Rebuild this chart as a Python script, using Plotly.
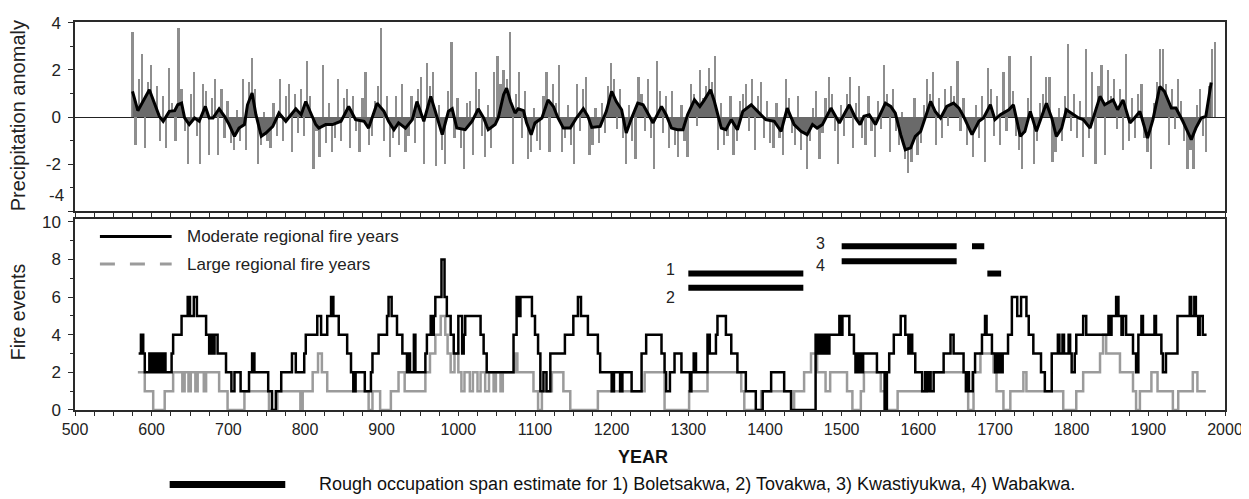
import plotly.graph_objects as go

# ---------------- DATA ----------------
# Annual precipitation anomaly (sampled every 4 years, read from the spikes)
prec_years = list(range(575, 1988, 4))
prec_values = [
    3.6, -1.2, 1.6, 2.7, -1.3, 1.5, 2.2, 0.4, 1.3, -1.0,
    0.9, -1.3, 2.1, 0.6, -1.0, 3.8, 1.2, -0.6, -2.0, 1.0,
    1.9, -0.8, -2.0, 1.4, 1.1, -1.6, 0.8, 1.6, -1.6, 1.2,
    -0.9, 0.7, -1.1, -1.4, 0.3, -1.0, 1.6, -1.4, 1.5, 2.5,
    1.2, -2.0, -1.2, 0.2, -1.0, -1.3, 0.6, -0.8, 1.6, -1.0,
    0.9, 1.4, -1.5, 1.0, -0.7, 1.2, -0.8, 2.4, 0.9, -2.2,
    -0.6, -1.7, 2.2, -1.1, 0.6, -1.5, -0.9, 1.6, -1.0, 0.8,
    1.2, -1.3, 0.9, -0.6, -1.5, 0.8, 1.9, -1.2, -0.8, 0.7,
    1.3, 3.8, -1.0, 0.9, -1.7, -0.9, 0.9, -1.2, 1.4, -1.5,
    -0.8, 0.9, -1.1, 1.2, 1.7, -2.0, 2.3, 1.3, 1.9, -2.1,
    0.5, -1.4, -2.0, 1.1, 3.2, -0.9, 0.8, -1.3, -2.2, 0.6,
    0.7, -1.6, 1.9, 1.2, -0.8, -1.7, 0.5, -1.3, 1.9, 2.6,
    1.4, 2.0, 1.6, 3.6, -2.0, 1.0, 1.9, -0.9, 1.1, -1.8,
    -1.5, 0.4, -1.0, -1.4, 0.9, 1.9, -1.5, 1.4, 0.6, 2.2,
    -1.5, -0.9, 0.5, -1.2, -2.0, 1.4, -0.6, 1.2, 1.7, -1.6,
    -1.2, 0.4, -1.1, 0.6, -0.7, 1.3, 2.3, 1.6, -0.5, 1.2,
    -0.9, -2.0, 0.5, -1.0, -1.8, 1.7, 1.0, -0.6, 1.6, -0.9,
    -2.2, 2.4, 1.1, -0.7, 0.9, -1.3, 1.1, -1.2, -1.7, 0.5,
    -1.0, -1.7, 1.4, 1.0, -0.4, 2.0, 0.8, 1.3, 2.1, 1.5,
    2.6, -1.4, 0.6, -1.2, -0.8, 0.9, -1.6, -1.0, 0.7, 1.0,
    1.4, -0.6, 1.6, -1.4, 0.9, 1.5, -0.9, 0.7, -1.1, -1.3,
    0.6, -0.9, -1.6, 1.6, 0.8, -0.7, -1.2, 0.9, -1.4, -0.6,
    -2.2, -1.0, 0.4, 1.1, -1.8, -0.7, 0.8, 1.7, 1.0, -0.6,
    -2.0, 0.5, -0.8, 1.0, 1.7, -1.3, 0.6, 1.3, -0.9, -1.2,
    0.9, -0.6, -1.7, 0.7, -0.5, 2.2, 1.0, -1.5, 1.2, -0.6,
    -1.2, 0.2, -1.8, -2.4, -1.9, 0.8, -1.6, -1.1, 0.5, 1.6,
    1.0, 1.9, -1.2, 0.8, -0.9, 1.2, -0.4, 1.3, 0.9, 2.4,
    -0.6, 0.8, -1.2, -0.6, -1.7, 0.5, -0.9, 0.9, -1.9, 2.1,
    1.2, -0.8, 0.9, -1.2, 1.9, -0.6, 2.6, 1.1, -0.8, -1.4,
    -2.2, -0.7, 0.8, 2.6, -2.0, -1.0, 0.6, 1.0, 1.7, 1.7,
    -1.9, -1.5, 0.4, -1.0, 0.9, 3.1, -0.6, 1.0, -0.9, 0.7,
    -1.7, 2.9, -0.9, 1.9, -2.0, 1.3, 2.2, -1.6, 2.0, 0.9,
    1.6, -0.5, 1.2, -1.4, 2.7, -1.0, 0.8, -0.9, 1.0, 1.4,
    -0.9, -1.5, -2.2, 0.6, 1.5, 2.9, 2.9, 1.4, -1.2, 1.2,
    -0.5, 1.6, 0.7, -1.0, -2.2, -1.4, -2.2, 0.5, 1.2, -0.8,
    -1.5, 1.3, 2.9, 3.2,
]

# Smoothed precipitation anomaly
smooth_years = [
    575, 582, 597, 610, 615, 623, 630, 634, 639, 643, 649, 656, 662, 670, 675, 680, 688, 695, 701, 708,
    714, 721, 725, 731, 736, 743, 749, 758, 766, 775, 788, 795, 801, 808, 814, 818, 827, 836, 847, 857,
    866, 877, 883, 894, 903, 909, 916, 922, 931, 940, 946, 955, 964, 970, 979, 987, 992, 998, 1009, 1018,
    1026, 1033, 1039, 1048, 1052, 1059, 1063, 1068, 1074, 1078, 1085, 1089, 1095, 1100, 1109, 1117, 1124, 1130, 1137, 1146,
    1154, 1163, 1169, 1174, 1185, 1193, 1200, 1206, 1213, 1219, 1226, 1234, 1241, 1247, 1254, 1265, 1271, 1278, 1286, 1293,
    1299, 1308, 1315, 1321, 1329, 1334, 1343, 1349, 1356, 1364, 1371, 1382, 1390, 1401, 1412, 1421, 1429, 1438, 1447, 1455,
    1462, 1468, 1475, 1486, 1497, 1510, 1518, 1524, 1529, 1536, 1544, 1551, 1557, 1564, 1570, 1577, 1583, 1590, 1596, 1603,
    1609, 1616, 1622, 1629, 1637, 1646, 1653, 1659, 1670, 1679, 1685, 1694, 1700, 1707, 1718, 1724, 1733, 1739, 1746, 1754,
    1767, 1774, 1780, 1787, 1793, 1800, 1809, 1815, 1824, 1837, 1843, 1854, 1860, 1867, 1876, 1882, 1889, 1899, 1906, 1915,
    1921, 1930, 1936, 1945, 1956, 1962, 1969, 1975, 1982,
]
smooth_values = [
    1.09, 0.27, 1.16, 0.03, -0.18, 0.24, 0.27, 0.52, 0.59, -0.04, -0.32, -0.04, -0.18, 0.45, -0.04, -0.04, 0.35, 0.03, -0.32, -0.82,
    -0.47, -0.32, 0.52, 1.02, 0.10, -0.82, -0.68, -0.40, 0.17, -0.18, 0.35, 0.10, 0.66, 0.17, -0.32, -0.47, -0.32, -0.32, -0.18, 0.45,
    -0.11, -0.18, -0.47, 0.59, 0.24, -0.18, -0.54, -0.25, -0.47, -0.11, 0.66, -0.18, 0.88, 0.24, -0.75, 0.24, 0.35, -0.47, -0.54, -0.18,
    0.35, -0.04, -0.54, -0.32, -0.04, 0.95, 1.23, 0.66, 0.17, 0.35, 0.27, -0.25, -0.75, -0.25, -0.04, 0.73, 0.45, -0.04, -0.47, -0.47,
    -0.04, 0.35, 0.03, -0.44, -0.40, 0.24, 1.09, 0.66, 0.31, -0.68, -0.04, 0.59, 0.52, 0.17, -0.25, 0.45, 0.10, -0.47, -0.54, -0.54,
    0.10, 0.73, 0.45, 0.73, 1.16, 0.66, -0.47, -0.54, -0.11, -0.54, 0.24, 0.52, 0.24, -0.11, -0.18, -0.61, 0.38, -0.32, -0.61, -0.75,
    -0.32, -0.47, -0.32, 0.38, -0.25, 0.52, -0.04, -0.32, 0.03, 0.10, -0.32, 0.17, 0.59, 0.45, 0.17, -0.75, -1.39, -1.31, -0.82, -0.61,
    -0.04, 0.66, 0.24, -0.04, 0.45, 0.59, 0.38, 0.03, -0.75, -0.18, -0.04, 0.52, -0.11, 0.10, 0.31, 0.52, -0.82, -0.61, 0.24, -0.61,
    0.59, -0.04, -0.82, -0.47, 0.31, 0.17, -0.04, -0.11, -0.47, 0.88, 0.52, 0.73, 0.31, 0.73, -0.25, -0.04, 0.24, -0.89, -0.11, 1.30,
    1.09, 0.38, 0.38, -0.18, -0.96, -0.47, -0.04, 0.03, 1.47,
]

# Moderate regional fire years (count, step changes)
moderate_years = [
    583, 586, 589, 591, 597, 600, 603, 606, 609, 612, 615, 618, 626, 628, 639, 647, 650, 655, 659, 671,
    675, 677, 680, 682, 686, 697, 704, 708, 716, 727, 731, 734, 752, 757, 762, 769, 783, 788, 799, 801,
    816, 821, 829, 834, 837, 844, 855, 860, 863, 866, 878, 886, 888, 896, 907, 909, 913, 920, 927, 933,
    935, 937, 942, 944, 957, 959, 964, 966, 968, 970, 978, 982, 985, 990, 994, 1000, 1005, 1007, 1009, 1029,
    1033, 1037, 1072, 1076, 1079, 1081, 1096, 1100, 1104, 1107, 1111, 1115, 1120, 1139, 1150, 1156, 1160, 1169, 1182, 1185,
    1200, 1203, 1211, 1214, 1226, 1239, 1245, 1265, 1269, 1271, 1276, 1282, 1291, 1302, 1304, 1307, 1310, 1325, 1328, 1336,
    1338, 1349, 1356, 1364, 1375, 1388, 1397, 1408, 1425, 1434, 1466, 1468, 1471, 1473, 1475, 1477, 1479, 1481, 1484, 1497,
    1499, 1501, 1510, 1516, 1518, 1520, 1522, 1524, 1526, 1528, 1546, 1556, 1559, 1562, 1568, 1577, 1583, 1587, 1589, 1592,
    1596, 1605, 1609, 1611, 1614, 1616, 1620, 1633, 1642, 1646, 1659, 1662, 1664, 1666, 1671, 1674, 1683, 1687, 1689, 1696,
    1700, 1702, 1704, 1706, 1708, 1710, 1717, 1722, 1729, 1734, 1741, 1744, 1750, 1760, 1765, 1774, 1782, 1784, 1788, 1790,
    1796, 1798, 1800, 1804, 1806, 1815, 1819, 1848, 1850, 1852, 1858, 1861, 1865, 1867, 1871, 1880, 1884, 1887, 1891, 1893,
    1908, 1910, 1917, 1919, 1923, 1938, 1954, 1956, 1960, 1962, 1965, 1967, 1971, 1976,
]
moderate_counts = [
    3, 4, 3, 2, 3, 2, 3, 2, 3, 2, 3, 2, 3, 4, 5, 6, 5, 6, 5, 4,
    3, 4, 3, 4, 3, 2, 1, 2, 1, 2, 3, 2, 1, 0, 1, 2, 3, 2, 3, 4,
    5, 4, 5, 6, 5, 4, 3, 2, 1, 2, 1, 2, 3, 4, 5, 6, 5, 4, 3, 2,
    3, 2, 4, 2, 3, 4, 5, 4, 5, 6, 8, 6, 5, 4, 3, 5, 3, 4, 5, 4,
    3, 2, 4, 6, 5, 6, 5, 4, 3, 1, 2, 1, 3, 4, 5, 6, 5, 4, 3, 2,
    1, 2, 1, 2, 1, 3, 4, 3, 2, 1, 2, 3, 2, 1, 2, 3, 2, 4, 3, 4,
    5, 4, 3, 2, 1, 0, 1, 2, 1, 0, 4, 3, 4, 3, 4, 3, 4, 3, 4, 5,
    4, 5, 4, 3, 2, 3, 2, 3, 2, 3, 2, 0, 2, 3, 4, 5, 4, 3, 4, 3,
    2, 1, 2, 1, 2, 1, 2, 3, 4, 3, 2, 1, 2, 1, 2, 3, 4, 5, 4, 3,
    2, 3, 2, 3, 2, 3, 4, 6, 5, 6, 5, 4, 3, 2, 1, 3, 4, 3, 4, 3,
    4, 3, 2, 3, 4, 5, 4, 5, 4, 5, 6, 5, 4, 5, 4, 3, 2, 4, 5, 4,
    5, 4, 3, 2, 3, 5, 6, 5, 6, 5, 4, 5, 4, 4,
]

# Large regional fire years (count, step changes)
large_years = [
    582, 591, 602, 617, 628, 640, 643, 648, 651, 657, 660, 668, 671, 688, 699, 721, 753, 764, 794, 797,
    810, 817, 822, 829, 883, 888, 898, 912, 922, 930, 957, 963, 970, 977, 983, 986, 990, 995, 1000, 1004,
    1008, 1015, 1019, 1025, 1029, 1035, 1040, 1046, 1049, 1055, 1058, 1074, 1077, 1098, 1104, 1109, 1122, 1137, 1146, 1182,
    1243, 1269, 1301, 1325, 1369, 1373, 1395, 1434, 1438, 1451, 1460, 1468, 1479, 1485, 1507, 1514, 1525, 1529, 1551, 1557,
    1573, 1611, 1665, 1672, 1681, 1698, 1702, 1711, 1720, 1737, 1741, 1789, 1806, 1815, 1837, 1841, 1845, 1863, 1880, 1884,
    1889, 1904, 1912, 1932, 1939, 1958, 1964, 1975,
]
large_counts = [
    2, 1, 0, 1, 2, 1, 2, 1, 2, 1, 2, 1, 2, 1, 0, 1, 0, 1, 0, 1,
    2, 3, 2, 1, 0, 1, 0, 1, 2, 1, 2, 3, 4, 5, 4, 3, 2, 3, 2, 1,
    2, 1, 2, 1, 2, 1, 2, 1, 2, 1, 2, 3, 2, 1, 0, 1, 2, 1, 0, 1,
    2, 0, 1, 2, 1, 0, 1, 0, 1, 2, 3, 2, 1, 2, 1, 0, 1, 2, 1, 0,
    1, 2, 0, 2, 3, 2, 1, 0, 1, 2, 1, 0, 1, 2, 3, 4, 3, 2, 1, 0,
    1, 2, 1, 0, 1, 2, 1, 1,
]

# Rough occupation spans
occ_labels = ["1", "2", "3", "3", "4", "4"]
occ_start = [1300, 1300, 1500, 1670, 1500, 1690]
occ_end = [1450, 1450, 1650, 1686, 1650, 1708]

# ---------------- STYLE / PLACEMENT ----------------
occ_row = [7.25, 6.5, 8.7, 8.7, 7.9, 7.25]
FONT = "Liberation Sans, Arial, sans-serif"
NARROW = "Liberation Sans Narrow, Arial Narrow, Liberation Sans, sans-serif"
AX = "#2a2a2a"

fig = go.Figure()

# Top panel
fig.add_trace(go.Bar(x=prec_years, y=prec_values, width=2.8,
                     marker=dict(color="#8e8e8e", line=dict(width=0)),
                     xaxis="x", yaxis="y", hoverinfo="skip"))
fig.add_trace(go.Scatter(x=smooth_years, y=smooth_values, mode="lines",
                         line=dict(width=0, color="rgba(0,0,0,0)"), fill="tozeroy",
                         fillcolor="#6a6a6a", xaxis="x", yaxis="y", hoverinfo="skip"))
fig.add_trace(go.Scatter(x=smooth_years, y=smooth_values, mode="lines",
                         line=dict(color="black", width=3), xaxis="x", yaxis="y"))

# Bottom panel
fig.add_trace(go.Scatter(x=large_years, y=large_counts, mode="lines",
                         line=dict(color="#9b9b9b", width=2.5, shape="hv"),
                         xaxis="x2", yaxis="y2"))
fig.add_trace(go.Scatter(x=moderate_years, y=moderate_counts, mode="lines",
                         line=dict(color="black", width=2.5, shape="hv"),
                         xaxis="x2", yaxis="y2"))

ox, oy = [], []
for s, e, r in zip(occ_start, occ_end, occ_row):
    ox += [s, e, None]
    oy += [r, r, None]
fig.add_trace(go.Scatter(x=ox, y=oy, mode="lines", line=dict(color="black", width=6),
                         xaxis="x2", yaxis="y2"))

label_pos = {"1": (1277, 7.45), "2": (1277, 6.0), "3": (1472, 8.85), "4": (1472, 7.7)}
annotations = []
for lab, (lx, ly) in label_pos.items():
    annotations.append(dict(x=lx, y=ly, xref="x2", yref="y2", text=lab, showarrow=False,
                            font=dict(family=FONT, size=16, color="#222")))


# helpers: window pixel -> paper fraction (plot area spans x 75..1229, y 14..410 in the window)
def px(xp):
    return (xp - 75) / 1154.0


def py(yp):
    return (410 - yp) / 396.0


annotations += [
    dict(x=px(66), y=py(191), xref="paper", yref="paper", text="-4", showarrow=False,
         font=dict(family=FONT, size=17, color="#222"), xanchor="right", yanchor="middle"),
    dict(x=px(18), y=py(110), xref="paper", yref="paper", text="Precipitation anomaly",
         textangle=-90, showarrow=False, font=dict(family=FONT, size=20, color="#222"),
         xanchor="center", yanchor="middle"),
    dict(x=px(18), y=py(310), xref="paper", yref="paper", text="Fire events",
         textangle=-90, showarrow=False, font=dict(family=FONT, size=19.5, color="#222"),
         xanchor="center", yanchor="middle"),
    dict(x=px(185), y=py(233), xref="paper", yref="paper", text="Moderate regional fire years",
         showarrow=False, font=dict(family=FONT, size=17, color="#222"), xanchor="left", yanchor="middle"),
    dict(x=px(185), y=py(261), xref="paper", yref="paper", text="Large regional fire years",
         showarrow=False, font=dict(family=FONT, size=17, color="#222"), xanchor="left", yanchor="middle"),
    dict(x=px(645), y=py(458), xref="paper", yref="paper", text="<b>YEAR</b>",
         showarrow=False, font=dict(family=NARROW, size=18, color="#111"), xanchor="center", yanchor="middle"),
    dict(x=px(318), y=py(486), xref="paper", yref="paper",
         text="Rough occupation span estimate for 1) Boletsakwa, 2) Tovakwa, 3) Kwastiyukwa, 4) Wabakwa.",
         showarrow=False, font=dict(family=NARROW, size=18, color="#111"), xanchor="left", yanchor="middle"),
]

shapes = [
    dict(type="line", xref="paper", yref="paper", x0=px(100), x1=px(172), y0=py(233), y1=py(233),
         line=dict(color="black", width=3)),
    dict(type="line", xref="paper", yref="paper", x0=px(100), x1=px(172), y0=py(261), y1=py(261),
         line=dict(color="#9b9b9b", width=3, dash="longdash")),
    dict(type="line", xref="paper", yref="paper", x0=px(170), x1=px(286), y0=py(486), y1=py(486),
         line=dict(color="black", width=7)),
]

# the page body has an 8px margin, so the figure is made 8px smaller and margins shifted
fig.update_layout(
    width=1241, height=491,
    margin=dict(l=67, r=20, t=6, b=89),
    paper_bgcolor="white", plot_bgcolor="white",
    showlegend=False, bargap=0,
    annotations=annotations, shapes=shapes,
    xaxis=dict(domain=[0, 1], anchor="y", range=[500, 2000], showline=True, linecolor=AX,
               linewidth=1.5, mirror=True, ticks="outside", ticklen=4, tickcolor=AX,
               tick0=500, dtick=25, showticklabels=False, showgrid=False, zeroline=False),
    yaxis=dict(domain=[0.5126, 1], anchor="x", range=[-4, 4.04], showline=True, linecolor=AX,
               linewidth=1.5, mirror=True, ticks="outside", ticklen=5, tickcolor=AX,
               tickvals=[-4, -2, 0, 2, 4], ticktext=["", "-2", "0", "2", "4"],
               minor=dict(tickvals=[-3, -1, 1, 3], ticks="outside", ticklen=3, tickcolor=AX),
               tickfont=dict(family=FONT, size=17, color="#222"), ticklabelstandoff=4,
               showgrid=False, zeroline=True, zerolinecolor="#222", zerolinewidth=1.2),
    xaxis2=dict(domain=[0, 1], anchor="y2", range=[500, 2000], showline=True, linecolor=AX,
                linewidth=1.5, mirror=True, ticks="outside", ticklen=4, tickcolor=AX,
                tick0=500, dtick=100, minor=dict(dtick=25, ticks="outside", ticklen=4, tickcolor=AX),
                tickfont=dict(family=NARROW, size=16, color="#222"),
                showgrid=False, zeroline=False),
    xaxis3=dict(overlaying="x2", anchor="y2", side="top", range=[500, 2000], showline=False,
                ticks="inside", ticklen=4, tickcolor=AX, tick0=500, dtick=25,
                showticklabels=False, showgrid=False, zeroline=False),
    yaxis2=dict(domain=[0, 0.4924], anchor="x2", range=[0, 10.15], showline=True, linecolor=AX,
                linewidth=1.5, mirror=True, ticks="outside", ticklen=5, tickcolor=AX,
                tick0=0, dtick=2, minor=dict(dtick=1, ticks="outside", ticklen=3, tickcolor=AX),
                tickfont=dict(family=FONT, size=17, color="#222"), ticklabelstandoff=4,
                showgrid=False, zeroline=False),
)

fig.write_html("out.html")
